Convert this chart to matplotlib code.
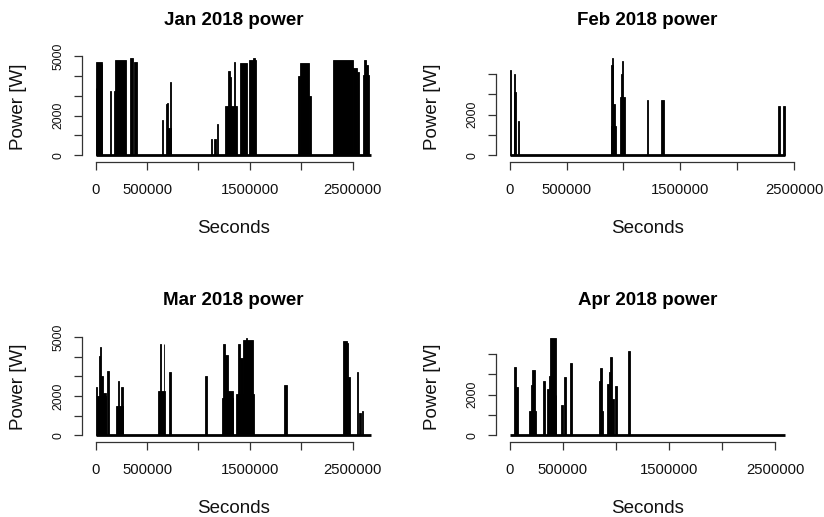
import matplotlib
matplotlib.use("Agg")
from matplotlib import pyplot as plt

plt.rcParams['font.family'] = ['Liberation Sans', 'DejaVu Sans']

# month lengths (seconds)
month_titles = ['Jan 2018 power', 'Feb 2018 power', 'Mar 2018 power', 'Apr 2018 power']
month_seconds = [2678400, 2419200, 2678400, 2592000]

# bursts of power use: start [s], end [s], power [W]
jan_start = [0, 6500, 58000, 138700, 176000, 190000, 329000, 371000, 642000, 680700,
             695000, 690000, 719400, 1122600, 1154900, 1177500, 1261300, 1287100,
             1306400, 1345200, 1403200, 1490300, 1526000, 1964500, 1983000, 2080000,
             2313000, 2506500, 2538700, 2603300, 2613000, 2625000]
jan_end = [6500, 58000, 64500, 145200, 190000, 296800, 358000, 400000, 651600, 690000,
           703000, 732000, 732300, 1135600, 1171000, 1193600, 1371000, 1303200,
           1319300, 1358000, 1474200, 1561300, 1545000, 1983000, 2080000, 2093600,
           2506500, 2538700, 2564600, 2658100, 2625000, 2650000]
jan_power = [3400, 4700, 4600, 3220, 3260, 4820, 4920, 4690, 1780, 2570,
             2640, 1380, 3700, 810, 830, 1600, 2500, 4260,
             3930, 4690, 4655, 4800, 4900, 4017, 4650, 3000,
             4780, 4400, 4220, 4050, 4780, 4570]

feb_start = [0, 35100, 40000, 70200, 892700, 892700, 900000, 910300, 971800, 977000,
             990000, 1206000, 1331800, 2362100, 2404000]
feb_end = [11700, 52700, 50000, 79000, 936600, 905000, 910300, 925000, 1015700, 986400,
           998000, 1217700, 1352300, 2376800, 2419200]
feb_power = [4170, 3090, 4000, 1690, 1440, 4410, 4790, 2500, 2840, 4000,
             4630, 2710, 2710, 2400, 2400]

mar_start = [0, 9700, 30000, 42200, 51900, 68100, 107000, 194600, 220500, 243200,
             609700, 625000, 660000, 716700, 1063700, 1225900, 1235600, 1258300,
             1284200, 1362100, 1388000, 1404200, 1436600, 1462000, 1832300,
             2409500, 2441900, 2458100, 2539300, 2565200, 2588000]
mar_end = [9700, 100500, 42000, 51900, 68100, 100500, 126500, 262700, 230300, 262700,
           677800, 633000, 668000, 736100, 1086400, 1332900, 1258300, 1284200,
           1332900, 1540400, 1404200, 1436600, 1533900, 1472000, 1858200,
           2441900, 2458100, 2474400, 2555500, 2578100, 2597700]
mar_power = [2460, 1980, 4060, 4490, 3000, 2150, 3260, 1500, 2780, 2460,
             2240, 4660, 4670, 3210, 3040, 1890, 4660, 4110,
             2240, 2100, 4660, 3940, 4830, 4970, 2540,
             4790, 4700, 2950, 3210, 1130, 1250]

apr_start = [40600, 56300, 181300, 196900, 212500, 312500, 353100, 368800, 381300,
             431300, 484400, 512500, 568800, 837500, 853100, 868800, 915600, 937500,
             946900, 962500, 993800, 1109400]
apr_end = [56300, 81300, 243800, 212500, 234400, 328100, 368800, 381300, 431300,
           437500, 500000, 528100, 587500, 853100, 868800, 881300, 937500, 946900,
           962500, 984400, 1012500, 1131300]
apr_power = [3340, 2350, 1190, 2460, 3210, 2680, 2270, 2930, 4790,
             2000, 1470, 2880, 3550, 2680, 3290, 1190, 2510, 3090,
             3840, 1770, 2430, 4130]

x_ticks = [0, 500000, 1000000, 1500000, 2000000, 2500000]
x_labels_shown = [0, 500000, 1500000, 2500000]
y_ticks = [0, 1000, 2000, 3000, 4000, 5000]
y_labels_shown = [0, 2000, 5000]

series = [(jan_start, jan_end, jan_power), (feb_start, feb_end, feb_power),
          (mar_start, mar_end, mar_power), (apr_start, apr_end, apr_power)]

W, H = 824, 517
fig = plt.figure(figsize=(W / 100, H / 100), dpi=100)

# plot regions in pixels: left, top, right, bottom
regions = [(84.7, 53.8, 382, 159.2), (498.7, 53.8, 796, 159.2),
           (84.7, 333.8, 382, 439.2), (498.7, 333.8, 796, 439.2)]

axis_col = '#333333'
for i in range(4):
    l, t, r, b = regions[i]
    ax = fig.add_axes([l / W, 1 - b / H, (r - l) / W, (b - t) / H])
    start, end, power = series[i]
    T = month_seconds[i]
    ymax = max(power)
    widths = [e - s for s, e in zip(start, end)]
    ax.bar(start, power, width=widths, align='edge', color='black',
           edgecolor='black', linewidth=0.6)
    ax.plot([0, T], [0, 0], color='black', lw=2.0, solid_capstyle='butt')

    ax.set_xlim(-0.04 * T, 1.04 * T)
    ax.set_ylim(-0.04 * ymax, 1.04 * ymax)

    for s in ['top', 'right']:
        ax.spines[s].set_visible(False)
    ax.spines['left'].set_position(('outward', 2.2))
    ax.spines['bottom'].set_position(('outward', 1.8))
    for s in ['left', 'bottom']:
        ax.spines[s].set_color(axis_col)
        ax.spines[s].set_linewidth(0.9)

    xt = [v for v in x_ticks if v <= 1.04 * T]
    yt = [v for v in y_ticks if v <= 1.04 * ymax]
    ax.spines['bottom'].set_bounds(xt[0], xt[-1])
    ax.spines['left'].set_bounds(yt[0], yt[-1])
    ax.set_xticks(xt)
    ax.set_xticklabels([str(v) if v in x_labels_shown else '' for v in xt])
    ax.set_yticks(yt)
    ax.set_yticklabels([str(v) if v in y_labels_shown else '' for v in yt],
                       rotation=90, va='center')
    ax.tick_params(axis='x', length=5.8, width=0.9, color=axis_col, pad=9.5,
                   labelsize=10.7, labelcolor='#111111')
    ax.tick_params(axis='y', length=5.5, width=0.9, color=axis_col, pad=7,
                   labelsize=8.8, labelcolor='#111111')

    ax.set_title(month_titles[i], fontsize=13.5, fontweight='bold', pad=20.7)
    ax.annotate('Seconds', xy=(0.5, 0), xycoords='axes fraction',
                xytext=(0, -53.3), textcoords='offset points',
                ha='center', va='baseline', fontsize=13.5, color='#111111')
    ax.annotate('Power [W]', xy=(0, 0.5), xycoords='axes fraction',
                xytext=(-48, 0), textcoords='offset points',
                ha='center', va='center', rotation=90, fontsize=13.5,
                color='#111111')

fig.savefig('out.png', dpi=100)
